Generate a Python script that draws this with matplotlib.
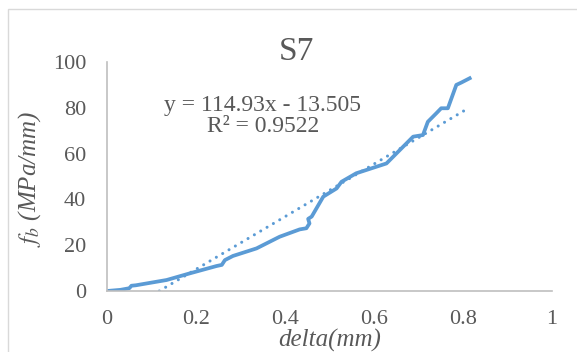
import numpy as np
import matplotlib

matplotlib.use("Agg")
import matplotlib.pyplot as plt
from matplotlib.patches import Rectangle

# bond stress vs slip, specimen S7
delta = [0, 0.03, 0.05, 0.055, 0.065, 0.134, 0.186, 0.246, 0.258, 0.265,
         0.283, 0.336, 0.388, 0.433, 0.448, 0.455, 0.452, 0.46, 0.486,
         0.516, 0.527, 0.560, 0.628, 0.688, 0.71, 0.721, 0.740, 0.751,
         0.766, 0.774, 0.785, 0.796, 0.815]
fb = [0, 0.5, 1.2, 2.3, 2.5, 4.8, 7.7, 10.9, 11.4, 13.5,
      15.3, 18.6, 23.7, 26.9, 27.4, 29.5, 31.5, 32.5, 41.2,
      44.8, 47.7, 51.4, 55.7, 67.4, 68.1, 73.9, 77.6, 79.8,
      79.8, 84.1, 90.0, 91.0, 92.9]

slope, intercept, r2 = 114.93, -13.505, 0.9522
x_ticks = [0, 0.2, 0.4, 0.6, 0.8, 1]
y_ticks = [0, 20, 40, 60, 80, 100]

blue = "#5B9BD5"
grey = "#595959"
serif = "Liberation Serif"
plt.rcParams["mathtext.fontset"] = "stix"

fig = plt.figure(figsize=(5.77, 3.52), dpi=100)
fig.patches.append(Rectangle((8 / 577, -0.1), 1.2, 1 - 9 / 352 + 0.1,
                             transform=fig.transFigure, fill=False,
                             edgecolor="#D9D9D9", linewidth=1))
ax = fig.add_axes([107 / 577, 1 - 291 / 352, 445 / 577, 229 / 352])

ax.plot(delta, fb, color=blue, linewidth=2.7, solid_joinstyle="round")
xt = np.array([-intercept / slope, max(delta)])
ax.plot(xt, slope * xt + intercept, color=blue, linewidth=2.2,
        linestyle=(0, (0.01, 2.4)), dash_capstyle="round")

ax.set_xlim(0, 1)
ax.set_ylim(0, 100)
ax.set_xticks(x_ticks)
ax.set_xticklabels([f"{v:g}" for v in x_ticks])
ax.set_yticks(y_ticks)
for s in ("top", "right"):
    ax.spines[s].set_visible(False)
for s in ("left", "bottom"):
    ax.spines[s].set_color("#BFBFBF")
    ax.spines[s].set_linewidth(1.2)
ax.tick_params(length=0, labelsize=16, labelcolor=grey)
ax.tick_params(axis="x", pad=14)
ax.tick_params(axis="y", pad=15)
for lab in ax.get_xticklabels() + ax.get_yticklabels():
    lab.set_fontfamily(serif)

fig.text(296 / 577, 1 - 60 / 352, "S7", fontsize=24, family=serif,
         color=grey, ha="center", va="baseline")
fig.text(263 / 577, 1 - 132 / 352,
         f"y = {slope}x - {abs(intercept)}\nR² = {r2}",
         fontsize=17, family=serif, color=grey, ha="center",
         va="baseline", multialignment="center", linespacing=1.0)
fig.text(330 / 577, 1 - 347 / 352, "delta(mm)", fontsize=18, family=serif,
         style="italic", color=grey, ha="center", va="baseline")
fig.text(30 / 577, 1 - 179 / 352, r"$f_b$ (MPa/mm)", fontsize=18,
         family=serif, style="italic", color=grey, ha="center",
         va="center", rotation=90)

fig.savefig("out.png", dpi=100)
plt.close(fig)
